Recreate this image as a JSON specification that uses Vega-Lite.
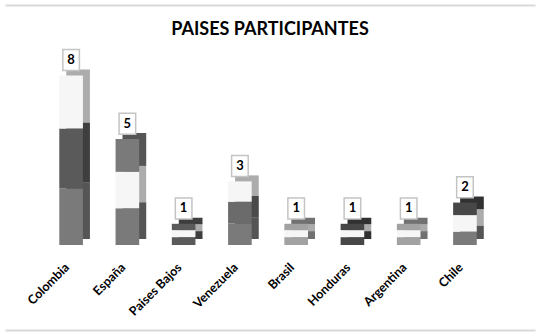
{
  "$schema": "https://vega.github.io/schema/vega-lite/v6.json",
  "width": 530,
  "height": 325,
  "autosize": {"type": "none"},
  "padding": {"left": 5, "top": 5, "right": 4, "bottom": 5},
  "background": "white",
  "title": {
    "text": "PAISES PARTICIPANTES",
    "font": "Lato",
    "fontSize": 18,
    "fontWeight": "bold",
    "color": "#000000",
    "anchor": "middle",
    "offset": -34
  },
  "datasets": {
    "segmentos": [
      {"pais": "Colombia", "desde": 0, "hasta": 2.67, "tono": "medio"},
      {"pais": "Colombia", "desde": 2.67, "hasta": 5.49, "tono": "oscuro"},
      {"pais": "Colombia", "desde": 5.49, "hasta": 8, "tono": "blanco"},
      {"pais": "España", "desde": 0, "hasta": 1.73, "tono": "medio"},
      {"pais": "España", "desde": 1.73, "hasta": 3.45, "tono": "blanco"},
      {"pais": "España", "desde": 3.45, "hasta": 5, "tono": "medio"},
      {"pais": "Paises Bajos", "desde": 0, "hasta": 0.37, "tono": "oscuro"},
      {"pais": "Paises Bajos", "desde": 0.37, "hasta": 0.7, "tono": "blanco"},
      {"pais": "Paises Bajos", "desde": 0.7, "hasta": 1, "tono": "oscuro"},
      {"pais": "Venezuela", "desde": 0, "hasta": 1.02, "tono": "medio"},
      {"pais": "Venezuela", "desde": 1.02, "hasta": 2.04, "tono": "medio oscuro"},
      {"pais": "Venezuela", "desde": 2.04, "hasta": 3, "tono": "blanco"},
      {"pais": "Brasil", "desde": 0, "hasta": 0.37, "tono": "claro"},
      {"pais": "Brasil", "desde": 0.37, "hasta": 0.7, "tono": "blanco"},
      {"pais": "Brasil", "desde": 0.7, "hasta": 1, "tono": "claro"},
      {"pais": "Honduras", "desde": 0, "hasta": 0.37, "tono": "negro"},
      {"pais": "Honduras", "desde": 0.37, "hasta": 0.7, "tono": "blanco"},
      {"pais": "Honduras", "desde": 0.7, "hasta": 1, "tono": "negro"},
      {"pais": "Argentina", "desde": 0, "hasta": 0.37, "tono": "claro"},
      {"pais": "Argentina", "desde": 0.37, "hasta": 0.7, "tono": "blanco"},
      {"pais": "Argentina", "desde": 0.7, "hasta": 1, "tono": "claro"},
      {"pais": "Chile", "desde": 0, "hasta": 0.63, "tono": "medio"},
      {"pais": "Chile", "desde": 0.63, "hasta": 1.41, "tono": "blanco"},
      {"pais": "Chile", "desde": 1.41, "hasta": 2, "tono": "negro"}
    ],
    "totales": [
      {"pais": "Colombia", "total": 8},
      {"pais": "España", "total": 5},
      {"pais": "Paises Bajos", "total": 1},
      {"pais": "Venezuela", "total": 3},
      {"pais": "Brasil", "total": 1},
      {"pais": "Honduras", "total": 1},
      {"pais": "Argentina", "total": 1},
      {"pais": "Chile", "total": 2}
    ]
  },
  "encoding": {
    "x": {
      "field": "pais",
      "type": "nominal",
      "sort": null,
      "scale": {
        "domain": ["Colombia", "España", "Paises Bajos", "Venezuela", "Brasil", "Honduras", "Argentina", "Chile"],
        "paddingInner": 0.58,
        "paddingOuter": 1.056,
        "align": 0.4825
      },
      "axis": {
        "title": null,
        "labelAngle": -45,
        "labelAlign": "right",
        "labelBaseline": "middle",
        "labelPadding": 20,
        "labelOffset": -4,
        "ticks": false,
        "tickSize": 0,
        "domain": false,
        "grid": false,
        "offset": -85,
        "labelFont": "Lato",
        "labelFontWeight": "bold",
        "labelFontSize": 12.5,
        "labelColor": "#000000"
      }
    }
  },
  "layer": [
    {
      "data": {"name": "segmentos"},
      "mark": {"type": "bar", "xOffset": 7, "x2Offset": 7, "yOffset": -6, "y2Offset": -6},
      "encoding": {
        "y": {
          "field": "desde",
          "type": "quantitative",
          "scale": {"domain": [-4.01, 11.32], "nice": false, "zero": false},
          "axis": {"values": [-4.01, 11.32], "grid": true, "gridColor": "#d9d9d9", "gridWidth": 2, "labels": false, "ticks": false, "domain": false, "title": null}
        },
        "y2": {"field": "hasta"},
        "color": {
          "field": "tono",
          "type": "nominal",
          "scale": {
            "domain": ["blanco", "claro", "medio", "medio oscuro", "oscuro", "negro"],
            "range": ["#f6f6f6", "#a2a2a2", "#7a7a7a", "#6b6b6b", "#5a5a5a", "#474747"]
          },
          "legend": null
        }
      }
    },
    {
      "data": {"name": "segmentos"},
      "mark": {"type": "bar", "xOffset": 7, "x2Offset": 7, "yOffset": -6, "y2Offset": -6, "color": "#000000", "opacity": 0.3},
      "encoding": {
        "y": {
          "field": "desde",
          "type": "quantitative",
          "scale": {"domain": [-4.01, 11.32], "nice": false, "zero": false},
          "axis": {"values": [-4.01, 11.32], "grid": true, "gridColor": "#d9d9d9", "gridWidth": 2, "labels": false, "ticks": false, "domain": false, "title": null}
        },
        "y2": {"field": "hasta"}
      }
    },
    {
      "data": {"name": "segmentos"},
      "mark": {"type": "bar"},
      "encoding": {
        "y": {
          "field": "desde",
          "type": "quantitative",
          "scale": {"domain": [-4.01, 11.32], "nice": false, "zero": false},
          "axis": {"values": [-4.01, 11.32], "grid": true, "gridColor": "#d9d9d9", "gridWidth": 2, "labels": false, "ticks": false, "domain": false, "title": null}
        },
        "y2": {"field": "hasta"},
        "color": {
          "field": "tono",
          "type": "nominal",
          "scale": {
            "domain": ["blanco", "claro", "medio", "medio oscuro", "oscuro", "negro"],
            "range": ["#f6f6f6", "#a2a2a2", "#7a7a7a", "#6b6b6b", "#5a5a5a", "#474747"]
          },
          "legend": null
        }
      }
    },
    {
      "data": {"name": "totales"},
      "mark": {
        "type": "point",
        "shape": "M-0.79,-1H0.79V1H-0.79Z",
        "size": 441,
        "fill": "#ffffff",
        "stroke": "#c4c4c4",
        "strokeWidth": 1.5,
        "opacity": 1,
        "fillOpacity": 1,
        "yOffset": -15.3
      },
      "encoding": {
        "y": {
          "field": "total",
          "type": "quantitative",
          "scale": {"domain": [-4.01, 11.32], "nice": false, "zero": false},
          "axis": {"values": [-4.01, 11.32], "grid": true, "gridColor": "#d9d9d9", "gridWidth": 2, "labels": false, "ticks": false, "domain": false, "title": null}
        }
      }
    },
    {
      "data": {"name": "totales"},
      "mark": {
        "type": "text",
        "font": "Lato",
        "fontSize": 13,
        "fontWeight": "bold",
        "color": "#000000",
        "baseline": "middle",
        "align": "center",
        "yOffset": -15.3
      },
      "encoding": {
        "y": {
          "field": "total",
          "type": "quantitative",
          "scale": {"domain": [-4.01, 11.32], "nice": false, "zero": false},
          "axis": {"values": [-4.01, 11.32], "grid": true, "gridColor": "#d9d9d9", "gridWidth": 2, "labels": false, "ticks": false, "domain": false, "title": null}
        },
        "text": {"field": "total", "type": "quantitative"}
      }
    }
  ],
  "config": {
    "view": {"stroke": null}
  }
}
